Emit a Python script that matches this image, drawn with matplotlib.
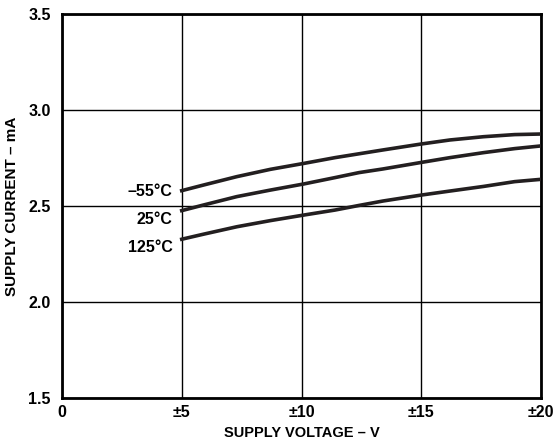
import matplotlib.pyplot as plt

# supply voltage (±V) and supply current (mA)
voltage = [5, 5.9, 7.3, 8.7, 10.1, 11.4, 12.4, 13.4, 15, 16.2, 17.6, 18.9, 20]
current_m55 = [2.580, 2.609, 2.653, 2.691, 2.722, 2.752, 2.772, 2.792, 2.823, 2.844, 2.861, 2.872, 2.875]
current_25 = [2.476, 2.505, 2.549, 2.583, 2.615, 2.648, 2.674, 2.693, 2.727, 2.752, 2.778, 2.799, 2.813]
current_125 = [2.327, 2.353, 2.392, 2.424, 2.453, 2.479, 2.503, 2.526, 2.557, 2.578, 2.602, 2.627, 2.639]

curve_labels = ['\u201355\u00b0C', '25\u00b0C', '125\u00b0C']
x_ticks = [0, 5, 10, 15, 20]
x_tick_labels = ['0', '\u00b15', '\u00b110', '\u00b115', '\u00b120']
y_ticks = [1.5, 2.0, 2.5, 3.0, 3.5]

plt.rcParams['font.family'] = ['Liberation Sans', 'DejaVu Sans']
plt.rcParams['font.weight'] = 'bold'

fig = plt.figure(figsize=(5.55, 4.45), dpi=100)
ax = fig.add_axes([0.1117, 0.1056, 0.8631, 0.8629])

line_color = '#231f20'
for cur in [current_m55, current_25, current_125]:
    ax.plot(voltage, cur, color=line_color, linewidth=2.6, solid_joinstyle='round', zorder=3)

# labels to the left of the curve starts
label_y = [2.573, 2.432, 2.286]
for txt, yy in zip(curve_labels, label_y):
    ax.text(4.62, yy, txt, ha='right', va='center', fontsize=11.5, fontweight='bold')

ax.set_xlim(0, 20)
ax.set_ylim(1.5, 3.5)
ax.set_xticks(x_ticks)
ax.set_xticklabels(x_tick_labels)
ax.set_yticks(y_ticks)
ax.set_yticklabels([f'{v:.1f}' for v in y_ticks])
ax.tick_params(axis='x', length=0, labelsize=11.5, pad=5)
ax.tick_params(axis='y', length=0, labelsize=11.5, pad=8)
ax.grid(True, color='black', linewidth=1.0)
for s in ax.spines.values():
    s.set_linewidth(2)

ax.set_xlabel('SUPPLY VOLTAGE \u2013 V', fontsize=10.5, fontweight='bold', labelpad=4)
ax.set_ylabel('SUPPLY CURRENT \u2013 mA', fontsize=11, fontweight='bold', labelpad=7)

fig.savefig('out.png', dpi=100)
